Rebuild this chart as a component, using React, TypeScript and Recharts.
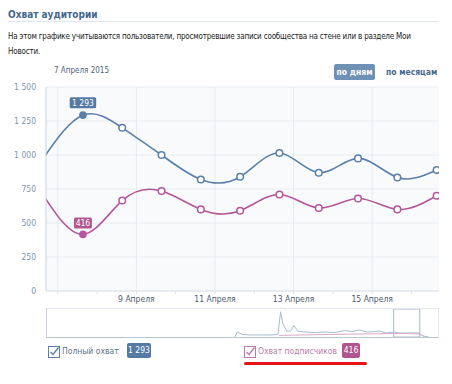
import { CartesianGrid, Line, LineChart, ReferenceArea, ReferenceLine, XAxis, YAxis } from 'recharts';

// days since 7 Apr 2015 00:00
const pointDays = [-0.36, 0.64, 1.64, 2.64, 3.64, 4.64, 5.64, 6.64, 7.64, 8.64, 9.64];
const fullReach = [980, 1293, 1200, 1000, 820, 840, 1015, 870, 975, 835, 890];
const subsReach = [700, 416, 665, 735, 600, 590, 710, 610, 680, 600, 700];

const dayLabels = ['7 Апреля', '8 Апреля', '9 Апреля', '10 Апреля', '11 Апреля', '12 Апреля', '13 Апреля', '14 Апреля', '15 Апреля', '16 Апреля'];
const labeledDays = [2, 4, 6, 8];
const yTicks = [0, 250, 500, 750, 1000, 1250, 1500];

// navigator (overview) series
const navDays = [72, 73, 75, 78, 82, 86, 88.6, 89.6, 90.5, 92, 93.5, 94.7, 96.2, 99, 103, 106.5, 110.3, 114.5, 116.8, 119.8, 123, 127.5, 130.2, 133.2, 135, 139, 142.8, 144.3, 146.6];
const navFull = [0, 1600, 800, 650, 650, 650, 800, 8100, 4200, 1900, 1900, 3700, 1900, 1600, 1450, 1600, 1450, 2100, 1750, 2250, 1600, 1900, 1300, 1600, 1300, 1300, 1300, 300, 0];
const navSubsDays = [89, 97, 108, 119.8, 131, 139, 142.8, 144.8];
const navSubs = [500, 650, 800, 950, 1100, 1100, 950, 150];

const activeIndex = 1;

const BLUE = '#5a7fa8';
const PINK = '#b3579a';
const BLUE_BADGE = '#557aa3';
const PINK_BADGE = '#b0558f';
const FONT = 'Tahoma, "DejaVu Sans Condensed", "DejaVu Sans", sans-serif';

const fmt = (v: number) => (v >= 1000 ? `${Math.floor(v / 1000)} ${String(v % 1000).padStart(3, '0')}` : String(v));

const mainData = pointDays.map((d, i) => ({ day: d, full: fullReach[i], subs: subsReach[i] }));
const navFullData = navDays.map((d, i) => ({ day: d, v: navFull[i] }));
const navSubsData = navSubsDays.map((d, i) => ({ day: d, v: navSubs[i] }));

const makeDot = (color: string, badge: string, values: number[], lift: number) => (props: any) => {
  const { cx, cy, index } = props;
  if (index === 0 || cx == null) return <g key={`d${index}`} />;
  if (index === activeIndex) {
    const text = fmt(values[index]);
    const w = text.length * 4.3 + 5;
    return (
      <g key={`d${index}`}>
        <rect x={cx - w / 2} y={cy - lift} width={w} height={11} rx={1.5} fill={badge} />
        <text x={cx} y={cy - lift + 8.5} textAnchor="middle" fill="#fff" fontSize={8.5} fontFamily={FONT}>
          {text}
        </text>
        <circle cx={cx} cy={cy} r={3.8} fill={color} />
      </g>
    );
  }
  return <circle key={`d${index}`} cx={cx} cy={cy} r={3.3} fill="#fff" stroke={color} strokeWidth={1.5} />;
};

function CheckBox({ color }: { color: string }) {
  return (
    <svg width={12} height={12} style={{ position: 'absolute', left: 0, top: 0 }}>
      <rect x={0.5} y={0.5} width={11} height={11} fill="#fff" stroke={color} strokeWidth={1} />
      <path d="M2.5 6 L5 8.5 L10.5 1.5" fill="none" stroke={color} strokeWidth={1.4} />
    </svg>
  );
}

export default function App() {
  return (
    <div style={{ position: 'absolute', left: 0, top: 0, width: 452, height: 384, background: '#fff', fontFamily: FONT, overflow: 'hidden' }}>
      <div style={{ position: 'absolute', left: 8, top: 9, fontSize: 10, fontWeight: 'bold', color: '#45688e', whiteSpace: 'nowrap' }}>
        Охват аудитории
      </div>
      <div style={{ position: 'absolute', left: 8, top: 21, width: 431, height: 1, background: '#dfe5ec' }} />
      <div
        style={{
          position: 'absolute',
          left: 8,
          top: 29,
          fontSize: 8,
          letterSpacing: -0.2,
          color: '#222',
          whiteSpace: 'nowrap',
          lineHeight: '15px',
        }}
      >
        <div>На этом графике учитываются пользователи, просмотревшие записи сообщества на стене или в разделе Мои</div>
        <div>Новости.</div>
      </div>
      <div style={{ position: 'absolute', left: 54, top: 66, fontSize: 8, color: '#50647c', whiteSpace: 'nowrap' }}>7 Апреля 2015</div>
      <div
        style={{
          position: 'absolute',
          left: 334,
          top: 64,
          width: 41,
          height: 16,
          background: '#6f91b5',
          borderRadius: 2,
          color: '#fff',
          fontSize: 8.5,
          fontWeight: 'bold',
          textAlign: 'center',
          lineHeight: '16px',
        }}
      >
        по дням
      </div>
      <div style={{ position: 'absolute', left: 386, top: 64, fontSize: 8.5, fontWeight: 'bold', color: '#45688e', lineHeight: '16px', whiteSpace: 'nowrap' }}>
        по месяцам
      </div>

      <div style={{ position: 'absolute', left: 0, top: 80 }}>
        <LineChart width={452} height={230} data={mainData} margin={{ top: 7, right: 13, bottom: 0, left: 0 }}>
          <CartesianGrid vertical={false} stroke="#e9edf2" fill="#f9fafb" />
          {labeledDays.concat([0]).map((d) => (
            <ReferenceLine key={d} x={d} stroke="#e6eaf0" />
          ))}
          <XAxis
            type="number"
            dataKey="day"
            domain={[-0.3, 9.7]}
            allowDataOverflow
            ticks={dayLabels.map((_, i) => i)}
            interval={0}
            tickFormatter={(v: number) => (labeledDays.includes(v) ? dayLabels[v] : '')}
            tick={{ fontSize: 8.5, fill: '#4f5b6b', fontFamily: FONT }}
            tickSize={3}
            tickLine={{ stroke: '#dbe2ea' }}
            axisLine={{ stroke: '#dbe2ea' }}
            height={19}
          />
          <YAxis
            type="number"
            domain={[0, 1500]}
            ticks={yTicks}
            interval={0}
            width={46}
            tickFormatter={fmt}
            tick={{ fontSize: 8.5, fill: '#7f95b0', fontFamily: FONT }}
            tickLine={false}
            tickMargin={4}
            axisLine={{ stroke: '#c9d3df' }}
          />
          <Line
            type="natural"
            dataKey="full"
            stroke={BLUE}
            strokeWidth={1.6}
            dot={makeDot(BLUE, BLUE_BADGE, fullReach, 18)}
            activeDot={false}
            isAnimationActive={false}
          />
          <Line
            type="natural"
            dataKey="subs"
            stroke={PINK}
            strokeWidth={1.6}
            dot={makeDot(PINK, PINK_BADGE, subsReach, 17)}
            activeDot={false}
            isAnimationActive={false}
          />
        </LineChart>
      </div>

      <div
        style={{
          position: 'absolute',
          left: 46,
          top: 308,
          width: 393,
          height: 30,
          boxSizing: 'border-box',
          borderTop: '1px solid #e3e8ee',
          borderBottom: '1px solid #b9c6d4',
          borderLeft: '1px solid #c9d3df',
          borderRight: '1px solid #e3e8ee',
        }}
      >
        <LineChart width={391} height={28} margin={{ top: 0, right: 0, bottom: 0, left: 0 }}>
          <XAxis type="number" dataKey="day" domain={[0, 150]} hide />
          <YAxis type="number" domain={[0, 9000]} hide />
          <ReferenceArea x1={133} x2={143} stroke="#a9b8ca" strokeWidth={1} fill="#fff" fillOpacity={0} />
          <Line data={navFullData} type="linear" dataKey="v" stroke="#a9bcd3" strokeWidth={1} dot={false} isAnimationActive={false} />
          <Line data={navSubsData} type="linear" dataKey="v" stroke="#dca9c9" strokeWidth={1} dot={false} isAnimationActive={false} />
        </LineChart>
      </div>

      <div style={{ position: 'absolute', left: 48, top: 346, width: 12, height: 12 }}>
        <CheckBox color="#5a7fa8" />
      </div>
      <div style={{ position: 'absolute', left: 62, top: 345, fontSize: 8.5, color: '#5d708a', lineHeight: '13px', whiteSpace: 'nowrap' }}>
        Полный охват
      </div>
      <div
        style={{
          position: 'absolute',
          left: 127,
          top: 343,
          width: 24,
          height: 15,
          background: BLUE_BADGE,
          borderRadius: 2,
          color: '#fff',
          fontSize: 8.5,
          textAlign: 'center',
          lineHeight: '15px',
        }}
      >
        {fmt(fullReach[activeIndex])}
      </div>
      <div style={{ position: 'absolute', left: 244, top: 346, width: 12, height: 12 }}>
        <CheckBox color="#c07aaa" />
      </div>
      <div style={{ position: 'absolute', left: 258, top: 345, fontSize: 8.5, color: '#b77da6', lineHeight: '13px', whiteSpace: 'nowrap' }}>
        Охват подписчиков
      </div>
      <div
        style={{
          position: 'absolute',
          left: 342,
          top: 343,
          width: 18,
          height: 15,
          background: PINK_BADGE,
          borderRadius: 2,
          color: '#fff',
          fontSize: 8.5,
          textAlign: 'center',
          lineHeight: '15px',
        }}
      >
        {fmt(subsReach[activeIndex])}
      </div>
      <div style={{ position: 'absolute', left: 244, top: 362, width: 123, height: 3, background: '#e8141a', borderRadius: 2 }} />
    </div>
  );
}
